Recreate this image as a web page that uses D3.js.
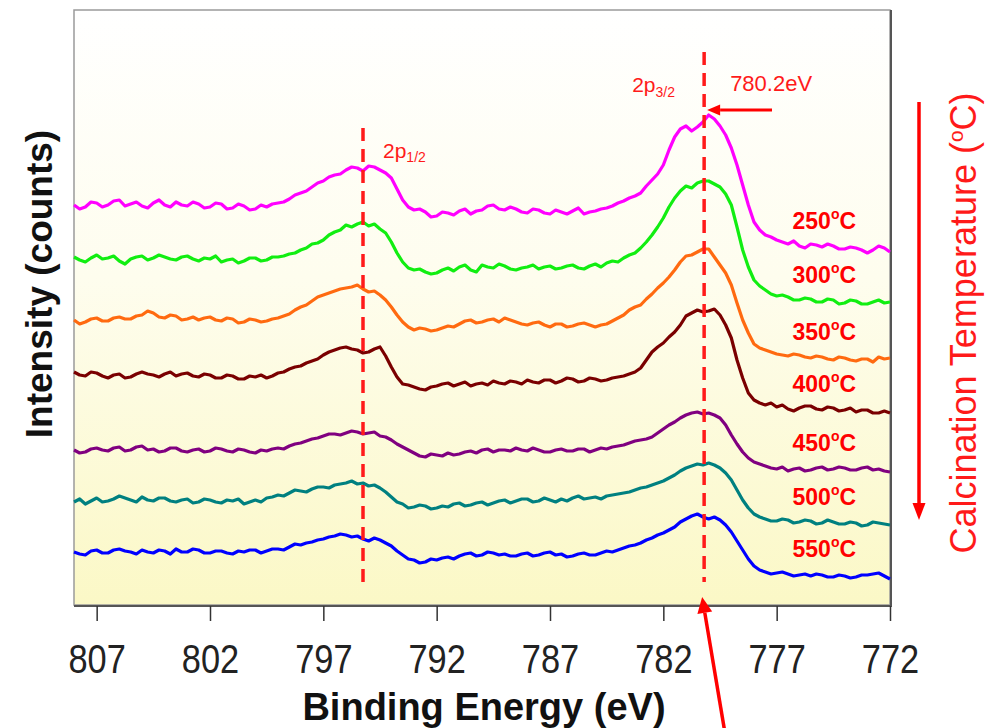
<!DOCTYPE html>
<html>
<head>
<meta charset="utf-8">
<script src="https://cdn.jsdelivr.net/npm/d3@7"></script>
<style>
	body { margin: 0; background: #fff; }
	svg { display: block; font-family: 'Liberation Sans', Arial, sans-serif; }
</style>
</head>
<body>
<div id="chart"></div>
<script>
'use strict';

// binding energy grid (eV), 0.25 eV steps
var energies = [
	808, 807.75, 807.5, 807.25, 807, 806.75, 806.5, 806.25, 806, 805.75, 805.5, 805.25,
	805, 804.75, 804.5, 804.25, 804, 803.75, 803.5, 803.25, 803, 802.75, 802.5, 802.25,
	802, 801.75, 801.5, 801.25, 801, 800.75, 800.5, 800.25, 800, 799.75, 799.5, 799.25,
	799, 798.75, 798.5, 798.25, 798, 797.75, 797.5, 797.25, 797, 796.75, 796.5, 796.25,
	796, 795.75, 795.5, 795.25, 795, 794.75, 794.5, 794.25, 794, 793.75, 793.5, 793.25,
	793, 792.75, 792.5, 792.25, 792, 791.75, 791.5, 791.25, 791, 790.75, 790.5, 790.25,
	790, 789.75, 789.5, 789.25, 789, 788.75, 788.5, 788.25, 788, 787.75, 787.5, 787.25,
	787, 786.75, 786.5, 786.25, 786, 785.75, 785.5, 785.25, 785, 784.75, 784.5, 784.25,
	784, 783.75, 783.5, 783.25, 783, 782.75, 782.5, 782.25, 782, 781.75, 781.5, 781.25,
	781, 780.75, 780.5, 780.25, 780, 779.75, 779.5, 779.25, 779, 778.75, 778.5, 778.25,
	778, 777.75, 777.5, 777.25, 777, 776.75, 776.5, 776.25, 776, 775.75, 775.5, 775.25,
	775, 774.75, 774.5, 774.25, 774, 773.75, 773.5, 773.25, 773, 772.75, 772.5, 772.25,
	772];

var temps = ['250', '300', '350', '400', '450', '500', '550'];
var colors = ['#ff00ff', '#11ee11', '#ff6a10', '#7a0000', '#800080', '#008080', '#0000ff'];

// stacked (offset) intensities, arbitrary counts
var s250 = [400,396,398,403,402,398,400,404,405,399,401,403,399,397,402,405,400,398,403,400,
	399,403,401,397,398,402,401,396,397,401,399,395,396,400,398,401,402,403,406,410,
	412,414,418,422,424,428,430,431,435,438,437,434,439,438,435,432,427,416,405,398,
	395,396,393,388,389,393,392,390,394,396,391,394,395,399,400,396,395,398,396,393,
	392,396,395,392,391,395,393,391,394,397,391,393,394,396,397,399,402,404,407,409,
	412,419,425,431,440,455,468,476,479,474,478,483,490,486,479,470,457,440,420,400,
	383,375,370,368,365,363,361,364,359,357,361,360,358,361,359,356,356,358,357,355,
	352,355,359,357,353];
var s300 = [348,345,343,347,350,346,347,349,344,341,346,348,349,345,347,350,348,346,345,348,
	349,346,344,347,346,349,343,345,346,342,344,347,347,344,345,348,348,349,351,352,
	355,357,361,362,365,370,373,375,380,378,381,383,379,381,376,372,363,352,343,337,
	335,336,333,331,332,335,337,334,338,340,335,333,340,338,337,341,339,336,335,337,
	338,340,336,338,339,336,337,339,340,337,336,339,341,338,342,344,343,347,350,352,
	357,363,370,378,387,398,407,414,419,417,422,424,424,421,418,411,400,378,355,338,
	325,319,315,311,309,310,308,305,305,307,306,303,303,306,305,301,302,305,304,301,
	301,303,305,302,303];
var s350 = [285,281,283,286,287,284,284,287,288,286,286,289,290,294,292,288,287,290,289,285,
	286,288,285,287,288,285,284,287,286,282,283,286,285,283,284,286,287,289,291,295,
	298,300,304,308,310,312,314,316,317,318,320,316,313,314,310,305,298,290,283,278,
	275,277,276,274,275,277,279,278,281,284,285,282,283,285,286,283,287,285,283,281,
	280,282,283,280,278,281,281,278,279,281,282,280,278,280,281,284,287,290,295,298,
	300,306,311,317,322,328,335,343,349,350,353,356,356,348,340,332,320,302,285,272,
	261,257,255,253,251,250,249,251,250,248,247,249,248,246,245,248,247,245,244,246,
	246,243,248,246,247];
var s400 = [233,230,229,233,232,229,227,230,231,227,228,231,233,231,230,228,231,233,229,231,
	232,229,228,231,230,227,227,230,229,226,226,229,228,230,227,229,232,233,236,238,
	239,242,244,246,250,253,255,257,258,256,255,252,253,256,258,249,238,228,221,220,
	218,216,215,218,219,221,222,219,221,223,219,221,222,220,224,222,221,224,223,221,
	225,223,222,225,225,222,224,227,226,223,224,227,226,224,225,227,228,229,231,233,
	237,245,253,258,262,268,273,280,289,292,295,293,294,296,290,280,267,245,227,212,
	205,202,200,202,198,200,196,194,197,199,199,196,195,198,197,194,195,197,193,195,
	195,192,192,194,192];
var s450 = [155,152,153,156,157,155,154,157,158,154,155,158,159,155,156,153,154,157,157,154,
	153,155,156,153,154,157,156,154,153,156,155,153,152,155,154,156,157,156,159,161,
	162,164,166,167,169,171,171,170,172,174,173,171,172,173,169,168,165,161,158,155,
	152,149,148,151,150,149,152,150,151,153,154,152,155,156,153,155,155,154,157,155,
	154,157,155,153,153,155,156,154,154,156,156,153,155,157,156,158,159,160,162,164,
	165,166,168,172,176,180,183,187,190,192,193,191,192,190,187,180,170,161,153,147,
	143,141,139,137,136,138,134,136,137,134,135,137,138,135,136,138,137,135,135,137,
	138,135,136,134,133];
var s500 = [103,106,101,104,107,103,104,106,109,107,105,103,108,105,104,107,107,104,103,105,
	106,102,103,106,105,103,102,105,104,106,101,103,105,103,107,108,110,109,112,115,
	114,113,116,118,118,117,120,121,122,124,121,122,119,120,117,113,108,103,101,97,
	98,100,99,96,97,99,98,101,102,99,100,102,103,100,102,104,105,102,104,106,
	106,103,104,107,105,103,106,104,107,109,106,107,108,106,109,110,111,112,113,115,
	117,118,120,122,124,127,130,134,137,139,141,140,142,140,137,132,125,115,105,97,
	91,88,86,84,84,86,85,82,83,85,84,81,82,85,83,81,81,83,82,79,
	80,83,82,81,80];
var s550 = [53,51,50,54,55,52,52,55,56,54,53,51,55,53,52,55,54,51,56,53,
	53,56,55,52,52,54,54,52,51,54,53,55,55,52,54,56,56,55,58,61,
	60,62,63,65,66,68,69,71,70,68,69,66,64,67,65,62,59,54,50,46,
	45,42,43,46,45,47,48,46,49,51,52,49,50,53,52,50,51,49,49,51,
	52,49,50,52,53,50,51,48,49,51,52,50,50,52,54,53,55,57,59,60,
	62,65,67,70,72,75,78,83,86,89,91,88,86,88,85,80,73,64,55,46,
	39,35,33,31,32,33,31,29,30,31,29,31,30,28,28,30,29,27,28,30,
	30,31,32,29,26];

var xTicks = [807, 802, 797, 792, 787, 782, 777, 772];
var peak12 = 795.25;
var peak32 = 780.2;

var series = [s250, s300, s350, s400, s450, s500, s550];

var W = 986, H = 728;
var plotL = 74, plotR = 890, plotT = 10, plotB = 605;

var svg = d3.select('#chart')
            .append('svg')
            .attr('width', W)
            .attr('height', H);

var x = d3.scaleLinear().domain([808, 772]).range([plotL, plotR]);
var y = d3.scaleLinear().domain([0, 595]).range([plotB, plotT]);

var defs = svg.append('defs');
var grad = defs.append('linearGradient')
               .attr('id', 'bg')
               .attr('x1', 0).attr('y1', 0)
               .attr('x2', 0).attr('y2', 1);
grad.append('stop').attr('offset', '0%').attr('stop-color', '#ffffff');
grad.append('stop').attr('offset', '45%').attr('stop-color', '#fefdee');
grad.append('stop').attr('offset', '100%').attr('stop-color', '#fbf8c6');

// plot frame
svg.append('rect')
   .attr('x', plotL).attr('y', plotT)
   .attr('width', plotR - plotL).attr('height', plotB - plotT)
   .attr('fill', 'url(#bg)')
   .attr('stroke', '#9a9a9a')
   .attr('stroke-width', 1.5);
svg.append('path')
   .attr('d', 'M' + plotL + ',' + (plotB + 1) + 'H' + (plotR + 1) + 'V' + plotT)
   .attr('fill', 'none')
   .attr('stroke', '#555')
   .attr('stroke-width', 2);

// x axis
var xAxis = svg.append('g')
               .attr('transform', 'translate(0,' + (plotB + 1) + ')')
               .call(d3.axisBottom(x).tickValues(xTicks).tickSize(15).tickPadding(24).tickFormat(d3.format('d')));
xAxis.select('.domain').remove();
xAxis.selectAll('.tick line').attr('stroke', '#333').attr('stroke-width', 1.5);
xAxis.selectAll('.tick text')
     .attr('font-size', 40)
     .attr('fill', '#222')
     .attr('font-family', "'Liberation Sans', Arial, sans-serif")
     .attr('transform', 'scale(0.86,1)');

svg.append('text')
   .attr('x', 484).attr('y', 720)
   .attr('text-anchor', 'middle')
   .attr('font-size', 38)
   .attr('font-weight', 'bold')
   .attr('fill', '#111')
   .text('Binding Energy (eV)');

svg.append('text')
   .attr('transform', 'translate(52,284) rotate(-90)')
   .attr('text-anchor', 'middle')
   .attr('font-size', 37)
   .attr('font-weight', 'bold')
   .attr('fill', '#111')
   .text('Intensity (counts)');

// spectra
var line = d3.line()
             .x(function (d, i) { return x(energies[i]); })
             .y(function (d) { return y(d); });

svg.selectAll('path.spec')
   .data(series)
   .enter()
   .append('path')
   .attr('class', 'spec')
   .attr('d', line)
   .attr('fill', 'none')
   .attr('stroke', function (d, i) { return colors[i]; })
   .attr('stroke-width', 3.2)
   .attr('stroke-linejoin', 'round');

// temperature labels, placed above each curve's tail
var labels = svg.selectAll('text.temp')
                .data(series)
                .enter()
                .append('text')
                .attr('class', 'temp')
                .attr('x', x(776.3))
                .attr('y', function (d) { return y(d3.mean(d.slice(-20))) - 18; })
                .attr('font-size', 23)
                .attr('font-weight', 'bold')
                .attr('fill', '#ff0000');
labels.append('tspan').text(function (d, i) { return temps[i]; });
labels.append('tspan').attr('font-size', 14).attr('dy', -10).text('o');
labels.append('tspan').attr('dy', 10).text('C');

// peak markers
function dashed(energy, y1) {
	svg.append('line')
	   .attr('x1', x(energy)).attr('x2', x(energy))
	   .attr('y1', y1).attr('y2', 582)
	   .attr('stroke', '#ff1a1a')
	   .attr('stroke-width', 3.5)
	   .attr('stroke-dasharray', '13,8');
}
dashed(peak12, 128);
dashed(peak32, 52);

function arrow(x1, y1, x2, y2, len, w, sw) {
	var a = Math.atan2(y2 - y1, x2 - x1);
	var bx = x2 - len * Math.cos(a), by = y2 - len * Math.sin(a);
	var px = -Math.sin(a) * w / 2, py = Math.cos(a) * w / 2;
	svg.append('line')
	   .attr('x1', x1).attr('y1', y1)
	   .attr('x2', bx).attr('y2', by)
	   .attr('stroke', '#ff0000')
	   .attr('stroke-width', sw);
	svg.append('path')
	   .attr('d', 'M' + x2 + ',' + y2 + 'L' + (bx + px) + ',' + (by + py) + 'L' + (bx - px) + ',' + (by - py) + 'Z')
	   .attr('fill', '#ff0000');
}

var lbl12 = svg.append('text')
               .attr('x', x(peak12) + 20).attr('y', 158)
               .attr('font-size', 21)
               .attr('fill', '#ff1a1a');
lbl12.append('tspan').text('2p');
lbl12.append('tspan').attr('font-size', 14).attr('dy', 4).text('1/2');

var lbl32 = svg.append('text')
               .attr('x', x(peak32) - 72).attr('y', 92)
               .attr('font-size', 21)
               .attr('fill', '#ff1a1a');
lbl32.append('tspan').text('2p');
lbl32.append('tspan').attr('font-size', 14).attr('dy', 5).text('3/2');

svg.append('text')
   .attr('x', x(peak32) + 26).attr('y', 91)
   .attr('font-size', 22)
   .attr('fill', '#ff1a1a')
   .text(d3.format('.1f')(peak32) + 'eV');

arrow(772, 110, x(peak32) + 3, 110, 13, 11, 3);
arrow(727, 745, x(peak32) - 2, 597, 16, 15, 3.5);

// calcination temperature arrow and title
arrow(919, 102, 919, 520, 17, 13, 3.5);

var ct = svg.append('text')
            .attr('transform', 'translate(976,323) rotate(-90)')
            .attr('text-anchor', 'middle')
            .attr('font-size', 36)
            .attr('fill', '#ff1a1a');
ct.append('tspan').text('Calcination Temperature (');
ct.append('tspan').attr('font-size', 21).attr('dy', -13).text('o');
ct.append('tspan').attr('dy', 13).text('C)');
</script>
</body>
</html>
